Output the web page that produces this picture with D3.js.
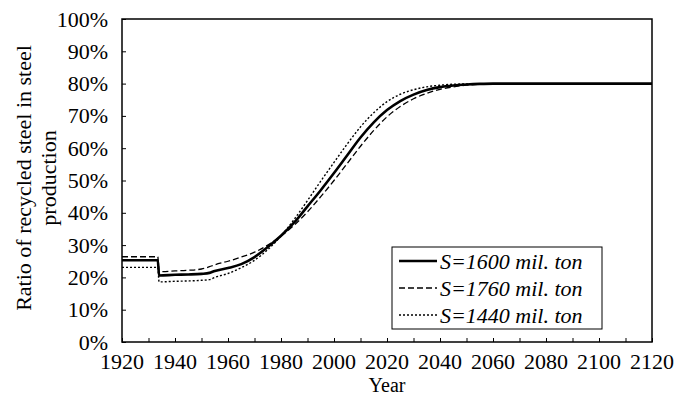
<!DOCTYPE html>
<html>
<head>
<meta charset="utf-8">
<script src="https://cdn.jsdelivr.net/npm/d3@7"></script>
<style>
  body { margin: 0; background: #fff; }
  text { font-family: "Liberation Serif", "Times New Roman", serif; fill: #000; }
</style>
</head>
<body>
<svg id="chart" width="693" height="396"></svg>
<script>
// data (ratio in %)
var yearTicks = [1920, 1940, 1960, 1980, 2000, 2020, 2040, 2060, 2080, 2100, 2120];
var pctTicks = [0, 10, 20, 30, 40, 50, 60, 70, 80, 90, 100];

var years1600 = [1920, 1933.5, 1934, 1940, 1945, 1950, 1953, 1955, 1960, 1965, 1970, 1975, 1980, 1985, 1990, 1995, 2000, 2005, 2010, 2015, 2020, 2025, 2030, 2035, 2040, 2045, 2050, 2055, 2060, 2120];
var ratio1600 = [25.3, 25.3, 20.6, 20.8, 20.9, 21.1, 21.4, 22.0, 22.9, 24.1, 26.3, 29.4, 32.9, 37.0, 42.0, 47.0, 52.3, 57.8, 63.3, 68.0, 71.8, 74.6, 76.6, 78.0, 78.9, 79.4, 79.7, 79.9, 80.0, 80.0];

var years1760 = [1920, 1933.5, 1934, 1940, 1945, 1950, 1953, 1955, 1960, 1965, 1970, 1975, 1980, 1985, 1990, 1995, 2000, 2005, 2010, 2015, 2020, 2025, 2030, 2035, 2040, 2045, 2050, 2055, 2060, 2120];
var ratio1760 = [26.4, 26.4, 21.8, 22.0, 22.2, 22.6, 23.3, 23.9, 25.0, 26.3, 27.8, 30.0, 32.8, 36.2, 40.3, 45.0, 50.0, 55.3, 60.6, 65.5, 69.7, 72.9, 75.3, 77.0, 78.2, 79.0, 79.5, 79.8, 80.0, 80.0];

var years1440 = [1920, 1933.5, 1934, 1940, 1945, 1950, 1953, 1955, 1960, 1965, 1970, 1975, 1980, 1985, 1990, 1995, 2000, 2005, 2010, 2015, 2020, 2025, 2030, 2035, 2040, 2045, 2050, 2060, 2120];
var ratio1440 = [23.1, 23.1, 18.6, 18.8, 18.9, 19.1, 19.3, 20.0, 21.2, 23.0, 25.3, 28.6, 32.8, 38.0, 43.8, 49.8, 55.6, 61.3, 66.6, 71.0, 74.4, 76.7, 78.1, 79.0, 79.5, 79.8, 79.9, 80.0, 80.0];

var seriesNames = ["S=1600 mil. ton", "S=1760 mil. ton", "S=1440 mil. ton"];

var svg = d3.select("#chart");
var plotL = 122, plotR = 652, plotT = 19, plotB = 342;
var fs = 22;

var x = d3.scaleLinear().domain([1920, 2120]).range([plotL, plotR]);
var y = d3.scaleLinear().domain([0, 100]).range([plotB, plotT]);

// frame
svg.append("rect")
    .attr("x", plotL).attr("y", plotT)
    .attr("width", plotR - plotL).attr("height", plotB - plotT)
    .attr("fill", "none").attr("stroke", "#000").attr("stroke-width", 1.5);

// x axis: ticks every 10 years pointing inward, labels every 20
var xAxis = d3.axisBottom(x).tickValues(d3.range(1920, 2121, 10)).tickSize(-4).tickFormat("");
svg.append("g").attr("transform", "translate(0," + plotB + ")").call(xAxis)
    .call(g => g.select(".domain").remove())
    .call(g => g.selectAll("line").attr("stroke", "#000"));
svg.append("g").selectAll("text").data(yearTicks).join("text")
    .attr("x", d => x(d)).attr("y", 368.5)
    .attr("text-anchor", "middle").attr("font-size", fs)
    .text(d => d);

// y axis
var yAxis = d3.axisLeft(y).tickValues(pctTicks).tickSize(-4).tickFormat("");
svg.append("g").attr("transform", "translate(" + plotL + ",0)").call(yAxis)
    .call(g => g.select(".domain").remove())
    .call(g => g.selectAll("line").attr("stroke", "#000"));
svg.append("g").selectAll("text").data(pctTicks).join("text")
    .attr("x", 108).attr("y", d => y(d) + 7.5)
    .attr("text-anchor", "end").attr("font-size", fs)
    .text(d => d + "%");

// axis titles
svg.append("text").attr("x", (plotL + plotR) / 2).attr("y", 391.5)
    .attr("text-anchor", "middle").attr("font-size", 20).text("Year");
var yt = svg.append("text").attr("transform", "translate(31,178) rotate(-90)")
    .attr("text-anchor", "middle").attr("font-size", fs);
yt.append("tspan").attr("x", 0).attr("dy", 0).text("Ratio of recycled steel in steel");
yt.append("tspan").attr("x", 0).attr("dy", 25).text("production");

// lines
var styles = [
    { w: 2.6, dash: null },
    { w: 1.3, dash: "6,3" },
    { w: 1.4, dash: "2,2" }
];
var series = [
    d3.zip(years1600, ratio1600),
    d3.zip(years1760, ratio1760),
    d3.zip(years1440, ratio1440)
];
var line = d3.line().x(d => x(d[0])).y(d => y(d[1])).curve(d3.curveMonotoneX);

series.forEach(function(s, i) {
    svg.append("path")
        .attr("d", line(s))
        .attr("fill", "none")
        .attr("stroke", "#000")
        .attr("stroke-width", styles[i].w)
        .attr("stroke-dasharray", styles[i].dash);
});

// legend
var lg = svg.append("g");
lg.append("rect").attr("x", 392).attr("y", 247).attr("width", 210).attr("height", 82)
    .attr("fill", "#fff").attr("stroke", "#000").attr("stroke-width", 1);
seriesNames.forEach(function(name, i) {
    var ry = 261 + i * 27;
    lg.append("line").attr("x1", 399).attr("x2", 437).attr("y1", ry).attr("y2", ry)
        .attr("stroke", "#000").attr("stroke-width", styles[i].w)
        .attr("stroke-dasharray", styles[i].dash);
    lg.append("text").attr("x", 440).attr("y", ry + 7.5)
        .attr("font-size", fs).attr("font-style", "italic").text(name);
});
</script>
</body>
</html>
